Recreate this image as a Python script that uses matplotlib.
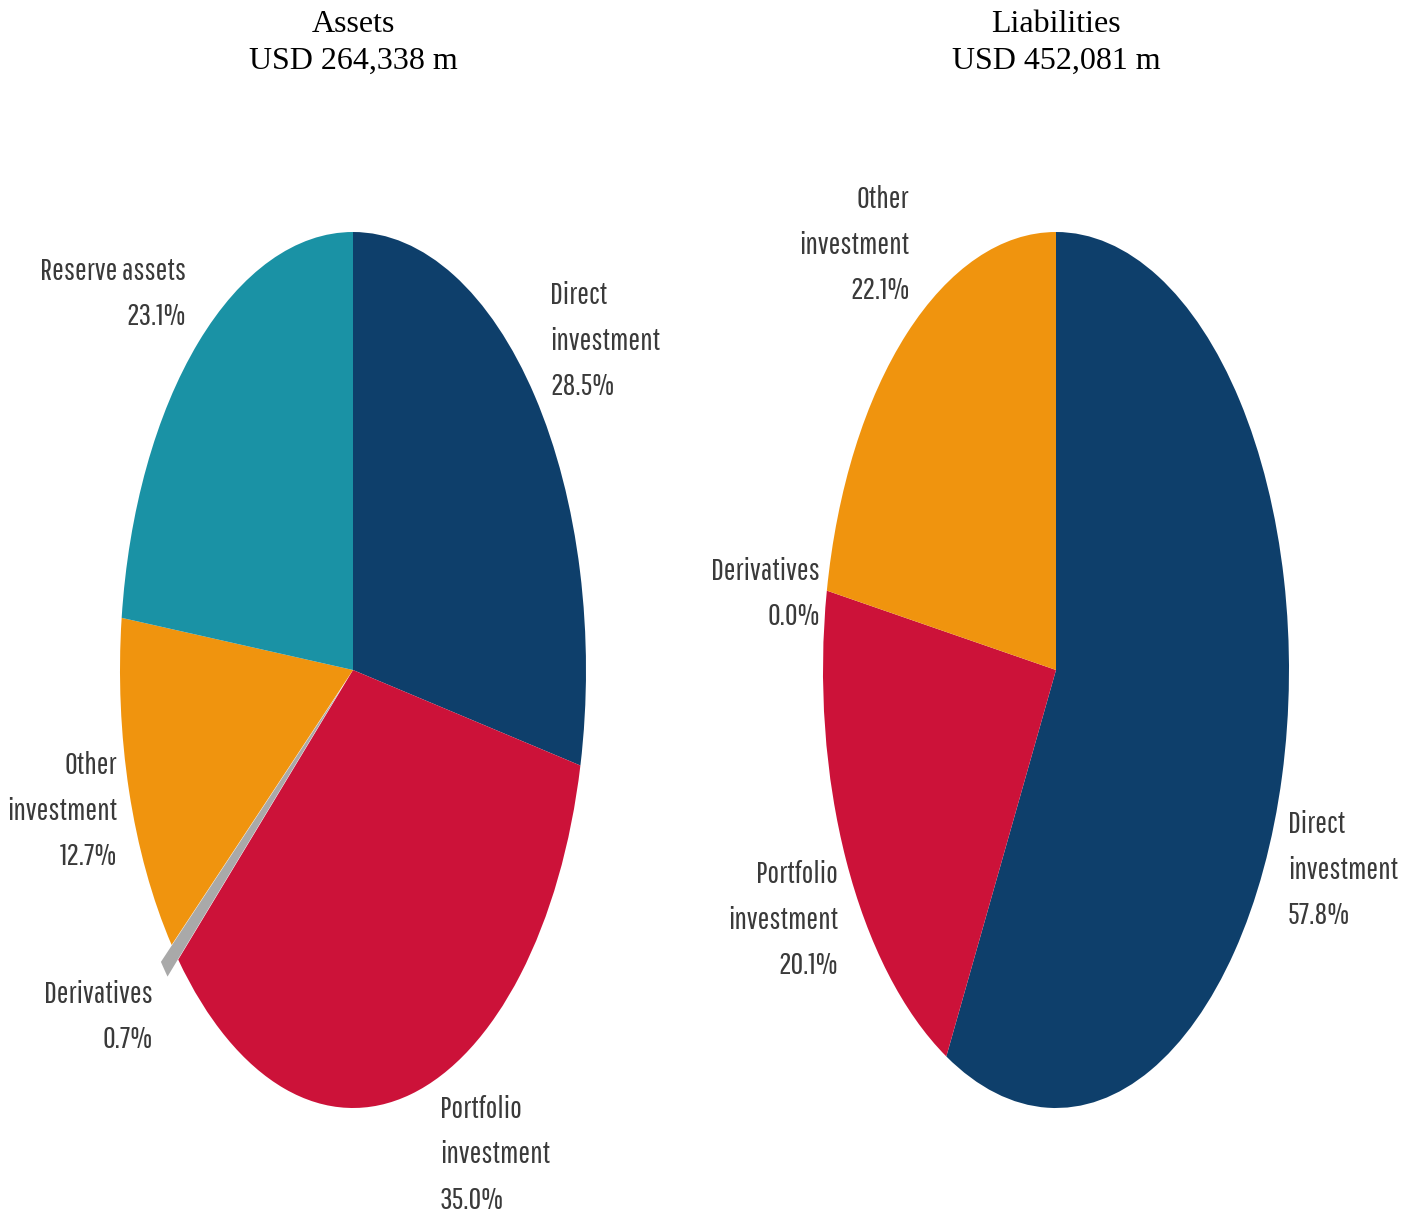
import matplotlib
matplotlib.use("Agg")
import matplotlib.pyplot as plt

# data
asset_names = ["Direct\ninvestment", "Portfolio\ninvestment", "Derivatives", "Other\ninvestment", "Reserve assets"]
asset_vals = [28.5, 35.0, 0.7, 12.7, 23.1]
asset_colors = ["#0e3f6b", "#cc1239", "#a9a9a9", "#f0940e", "#1a92a5"]
asset_total = "USD 264,338 m"

liab_names = ["Direct\ninvestment", "Portfolio\ninvestment", "Derivatives", "Other\ninvestment"]
liab_vals = [57.8, 20.1, 0.0, 22.1]
liab_colors = ["#0e3f6b", "#cc1239", "#a9a9a9", "#f0940e"]
liab_total = "USD 452,081 m"

# label anchors in pie units (x, y, ha)
asset_pos = [(0.845, 0.751, "left"), (0.373, -1.107, "left"), (-0.858, -0.792, "right"),
             (-1.013, -0.322, "right"), (-0.717, 0.858, "right")]
liab_pos = [(0.996, -0.457, "left"), (-0.935, -0.571, "right"), (-1.013, 0.174, "right"),
            (-0.629, 0.970, "right")]

lab_font = ["Pathway Gothic One", "Roboto Condensed", "DejaVu Sans"]
W, H = 1408, 1220
fig = plt.figure(figsize=(W / 100, H / 100), dpi=100)


def draw(ax, vals, names, colors, pos, explode, cx, title, total):
    ax.pie(vals, colors=colors, startangle=90, counterclock=False, explode=explode,
           wedgeprops=dict(linewidth=0))
    ax.set_aspect("auto")
    # pie radius 1 -> 233 px wide, 438 px tall; centre at cx px (axes width 704)
    rx, ry = 233.0, 438.0
    ax.set_xlim(-cx / rx, (704 - cx) / rx)
    ax.set_ylim(-550 / ry, 670 / ry)
    ax.axis("off")
    for n, v, (x, y, ha) in zip(names, vals, pos):
        ax.text(x, y, "%s\n%.1f%%" % (n, v), ha=ha, va="center", family=lab_font,
                fontsize=22.5, color="#3a3a3a", linespacing=1.72)
    ax.text(cx / 704, 1 - 43 / 1220, title + "\n" + total, transform=ax.transAxes,
            ha="center", va="center", family=["Liberation Serif", "DejaVu Serif"],
            fontsize=23, color="black", linespacing=1.37)


ax1 = fig.add_axes([0, 0, 0.5, 1])
draw(ax1, asset_vals, asset_names, asset_colors, asset_pos, [0, 0, 0.06, 0, 0], 353,
     "Assets", asset_total)
ax2 = fig.add_axes([0.5, 0, 0.5, 1])
draw(ax2, liab_vals, liab_names, liab_colors, liab_pos, None, 352,
     "Liabilities", liab_total)

fig.savefig("out.png", dpi=100)
